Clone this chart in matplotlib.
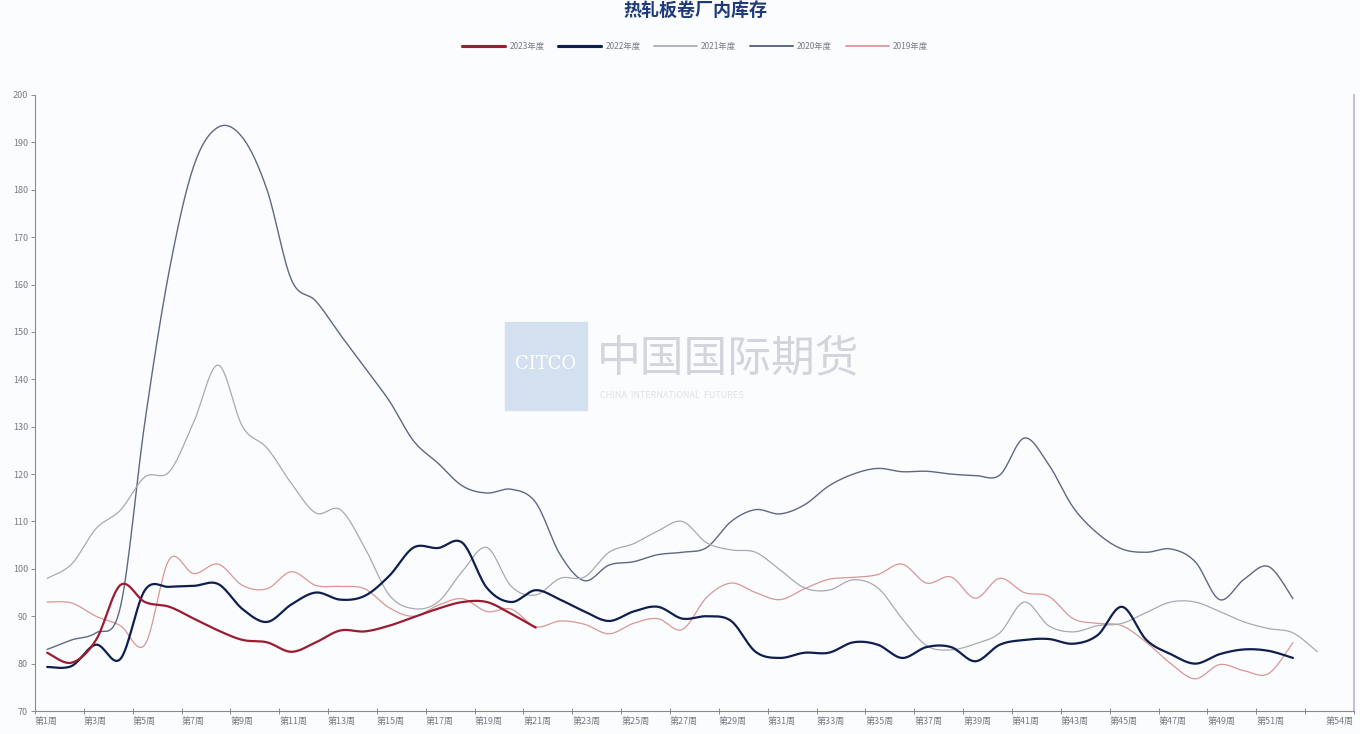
import numpy as np
import matplotlib
matplotlib.use("Agg")
import matplotlib.pyplot as plt
from matplotlib.patches import Rectangle

plt.rcParams["font.family"] = ["Noto Sans CJK SC", "DejaVu Sans"]

# ── Data (weekly factory inventory) ──────────────────────────────────────────
weeks_2023 = list(range(1, 22))
inv_2023 = [82.3, 80.2, 85.0, 96.6, 93.0, 92.0, 89.5, 87.0, 85.0, 84.5, 82.5,
            84.5, 87.0, 86.8, 88.0, 89.8, 91.6, 93.0, 93.0, 90.5, 87.6]

weeks_2022 = list(range(1, 53))
inv_2022 = [79.3, 79.5, 84.0, 81.0, 95.5, 96.2, 96.4, 96.8, 91.5, 88.8,
            92.5, 95.0, 93.5, 94.3, 98.5, 104.5, 104.4, 105.5, 96.0, 93.0,
            95.5, 93.5, 91.0, 89.0, 91.0, 92.0, 89.5, 90.0, 89.0, 82.5,
            81.2, 82.3, 82.3, 84.5, 84.0, 81.2, 83.5, 83.5, 80.5, 84.0,
            85.0, 85.2, 84.2, 86.0, 92.0, 85.0, 82.0, 80.0, 82.0, 83.0,
            82.7, 81.2]

weeks_2021 = list(range(1, 54))
inv_2021 = [98.0, 101.0, 108.5, 112.4, 119.4, 120.5, 131.0, 143.0, 130.0, 125.5,
            118.0, 111.8, 112.5, 104.5, 94.5, 91.6, 93.0, 99.5, 104.5, 96.3,
            94.5, 98.0, 98.3, 103.5, 105.3, 108.0, 110.0, 105.5, 104.0, 103.5,
            99.8, 96.0, 95.5, 97.7, 96.0, 89.5, 83.8, 82.9, 84.2, 86.5,
            93.0, 88.0, 86.7, 88.0, 88.5, 90.8, 93.0, 93.0, 91.0, 88.8,
            87.4, 86.5, 82.5]

weeks_2020 = list(range(1, 53))
inv_2020 = [83.0, 85.0, 86.5, 92.0, 131.0, 163.0, 185.0, 193.2, 191.0, 180.0,
            161.0, 156.5, 149.4, 142.5, 135.5, 127.0, 122.3, 117.5, 116.0, 116.8,
            114.0, 103.0, 97.5, 100.8, 101.5, 103.0, 103.5, 104.5, 110.0, 112.5,
            111.6, 113.5, 117.5, 120.0, 121.2, 120.5, 120.6, 120.0, 119.7, 119.8,
            127.6, 122.0, 113.0, 107.5, 104.2, 103.5, 104.2, 101.5, 93.5, 97.8,
            100.5, 93.7]

weeks_2019 = list(range(1, 53))
inv_2019 = [93.0, 92.8, 90.0, 88.0, 84.0, 102.0, 99.0, 101.0, 96.5, 95.8,
            99.4, 96.5, 96.3, 95.8, 91.8, 90.0, 92.3, 93.7, 91.0, 91.5,
            87.8, 89.0, 88.3, 86.3, 88.5, 89.5, 87.2, 94.0, 97.0, 95.0,
            93.5, 95.8, 97.8, 98.2, 98.8, 101.0, 97.0, 98.3, 93.8, 98.0,
            95.0, 94.2, 89.5, 88.5, 88.0, 84.5, 80.0, 76.8, 79.8, 78.5,
            77.9, 84.4]

tick_labels = [f"第{w}周" for w in range(1, 52, 2)] + ["", "第54周"]


def smooth(x, y, n=16):
    """Catmull-Rom curve through the points (like Excel's smoothed line)."""
    pts = np.column_stack([x, y]).astype(float)
    p = np.vstack([pts[0], pts, pts[-1]])
    t = np.linspace(0, 1, n, endpoint=False)[:, None]
    segs = []
    for i in range(1, len(p) - 2):
        p0, p1, p2, p3 = p[i - 1], p[i], p[i + 1], p[i + 2]
        segs.append(0.5 * (2 * p1 + (-p0 + p2) * t
                           + (2 * p0 - 5 * p1 + 4 * p2 - p3) * t ** 2
                           + (-p0 + 3 * p1 - 3 * p2 + p3) * t ** 3))
    segs.append(pts[-1:])
    s = np.vstack(segs)
    return s[:, 0], s[:, 1]


fig = plt.figure(figsize=(13.6, 7.34), dpi=100, facecolor="#FBFCFE")
ax = fig.add_axes([0.0257, 0.0313, 0.9699, 0.8393])
ax.set_facecolor("#FBFCFE")

# ── Watermark ────────────────────────────────────────────────────────────────
fig.patches.append(Rectangle((505 / 1360, 1 - 410 / 734), 82 / 1360, 88 / 734,
                             transform=fig.transFigure, color="#D3E0EF",
                             zorder=0))
fig.text(546 / 1360, 1 - 364 / 734, "CITCO", color="white", fontsize=13,
         ha="center", va="center", family="DejaVu Serif", zorder=1)
fig.text(597 / 1360, 1 - 358 / 734, "中国国际期货", color="#D2D5DC",
         fontsize=31.5, ha="left", va="center", zorder=1)
fig.text(600 / 1360, 1 - 395 / 734, "CHINA  INTERNATIONAL  FUTURES",
         color="#DEE1E6", fontsize=6.5, ha="left", va="center", zorder=1)

series = [
    ("2023年度", weeks_2023, inv_2023, "#9B1B30", 1.6),
    ("2022年度", weeks_2022, inv_2022, "#0E1F4F", 1.6),
    ("2021年度", weeks_2021, inv_2021, "#A9A9B2", 0.9),
    ("2020年度", weeks_2020, inv_2020, "#5E6884", 1.0),
    ("2019年度", weeks_2019, inv_2019, "#DB9696", 0.9),
]
for label, wk, vals, color, lw in reversed(series):
    xs, ys = smooth(np.array(wk) - 0.5, vals)
    ax.plot(xs, ys, color=color, lw=lw, label=label, solid_capstyle="round")

ax.set_xlim(0, 54)
ax.set_ylim(70, 200)
ax.set_yticks(range(70, 201, 10))
ax.set_xticks(range(0, 55, 2))
ax.set_xticklabels(tick_labels)
for i, lab in enumerate(ax.get_xticklabels()):
    lab.set_ha("right" if i == len(tick_labels) - 1 else "left")

ax.tick_params(axis="both", labelsize=6.5, colors="#8A8A90", length=3,
               width=0.7, pad=2)
ax.tick_params(axis="x", direction="inout", length=4)
for lab in ax.get_xticklabels() + ax.get_yticklabels():
    lab.set_color("#7A7A84")
ax.spines["top"].set_visible(False)
ax.spines["left"].set_color("#8A8A90")
ax.spines["bottom"].set_color("#8A8A90")
ax.spines["right"].set_color("#C9BCDA")
ax.spines["right"].set_linewidth(1.4)
for s in ("left", "bottom"):
    ax.spines[s].set_linewidth(0.8)

fig.text(0.511, 0.986, "热轧板卷厂内库存", ha="center", va="center",
         fontsize=13, fontweight="bold", color="#1F3A7A")

handles, labels = ax.get_legend_handles_labels()
leg = fig.legend(handles[::-1], labels[::-1], loc="center",
                 bbox_to_anchor=(0.511, 0.937), ncol=5, frameon=False,
                 fontsize=6, handlelength=5.2, columnspacing=1.6,
                 handletextpad=0.5)
for t in leg.get_texts():
    t.set_color("#7A7A84")
for ln in leg.get_lines():
    ln.set_linewidth(ln.get_linewidth() * 1.4)

plt.savefig("out.png", dpi=100, facecolor=fig.get_facecolor())
plt.close()
